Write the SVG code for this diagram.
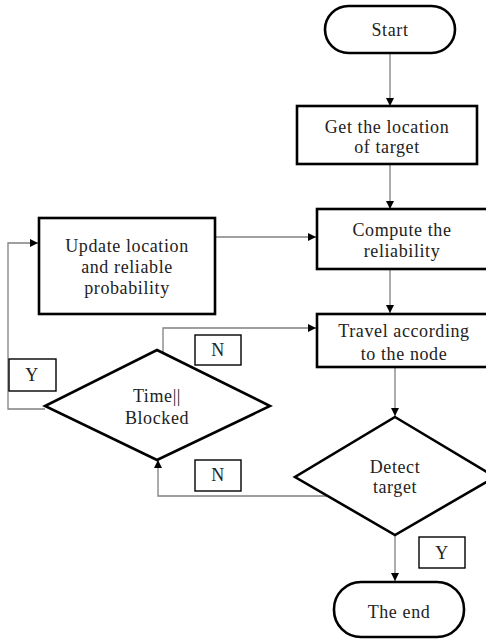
<svg xmlns="http://www.w3.org/2000/svg" width="486" height="639" viewBox="0 0 486 639">
<defs>
<marker id="ah" viewBox="0 0 10 10" refX="10" refY="5" markerWidth="8" markerHeight="8" markerUnits="userSpaceOnUse" orient="auto">
<path d="M0,0 L10,5 L0,10 Z" fill="#000"/>
</marker>
<style>
.box{fill:#fff;stroke:#000;stroke-width:2.6}
.lbl{fill:#fff;stroke:#000;stroke-width:1.4}
.c{fill:none;stroke:#808080;stroke-width:1.3}
text{font-family:"Liberation Serif","Times New Roman",serif;font-size:18px;fill:#222;text-anchor:middle;letter-spacing:0.6px}
</style>
</defs>
<rect width="486" height="639" fill="#fff"/>
<g id="connectors">
<path class="c" d="M390,53 V106" marker-end="url(#ah)"/>
<path class="c" d="M390,164 V209" marker-end="url(#ah)"/>
<path class="c" d="M215,237 H316" marker-end="url(#ah)"/>
<path class="c" d="M390,269 V313" marker-end="url(#ah)"/>
<path class="c" d="M395,367 V416" marker-end="url(#ah)"/>
<path class="c" d="M395,535 V581" marker-end="url(#ah)"/>
<path class="c" d="M163,352 V328 H316" marker-end="url(#ah)"/>
<path class="c" d="M45,409 H8 V243 H38" marker-end="url(#ah)"/>
<path class="c" d="M335,496 H158 V460" marker-end="url(#ah)"/>
</g>
<g id="start">
<rect class="box" x="325" y="6" width="130" height="47" rx="23.5"/>
<text x="390" y="36">Start</text>
</g>
<g id="get">
<rect class="box" x="297" y="106" width="180" height="58"/>
<text x="387" y="133">Get the location</text>
<text x="387" y="153">of target</text>
</g>
<g id="compute">
<rect class="box" x="317" y="209" width="180" height="60"/>
<text x="402" y="236">Compute the</text>
<text x="402" y="257">reliability</text>
</g>
<g id="update">
<rect class="box" x="39" y="218" width="176" height="96"/>
<text x="127" y="252">Update location</text>
<text x="127" y="273">and reliable</text>
<text x="127" y="294">probability</text>
</g>
<g id="travel">
<rect class="box" x="317" y="314" width="180" height="53"/>
<text x="404" y="337">Travel according</text>
<text x="404" y="360">to the node</text>
</g>
<g id="time">
<path class="box" d="M157,350 L270,406 L157,460 L45,406 Z"/>
<text x="157" y="402">Time||</text>
<text x="157" y="424">Blocked</text>
</g>
<g id="detect">
<path class="box" d="M395,417 L495,477 L395,535 L295,477 Z"/>
<text x="395" y="473">Detect</text>
<text x="395" y="493">target</text>
</g>
<g id="end">
<rect class="box" x="334" y="582" width="130" height="55" rx="27"/>
<text x="399" y="618">The end</text>
</g>
<g id="label-n1">
<rect class="lbl" x="195" y="335" width="46" height="30"/>
<text x="218" y="356">N</text>
</g>
<g id="label-n2">
<rect class="lbl" x="195" y="460" width="46" height="31"/>
<text x="218" y="481">N</text>
</g>
<g id="label-y1">
<rect class="lbl" x="9" y="359" width="47" height="32"/>
<text x="32" y="381">Y</text>
</g>
<g id="label-y2">
<rect class="lbl" x="419" y="537" width="46" height="31"/>
<text x="442" y="559">Y</text>
</g>
</svg>
